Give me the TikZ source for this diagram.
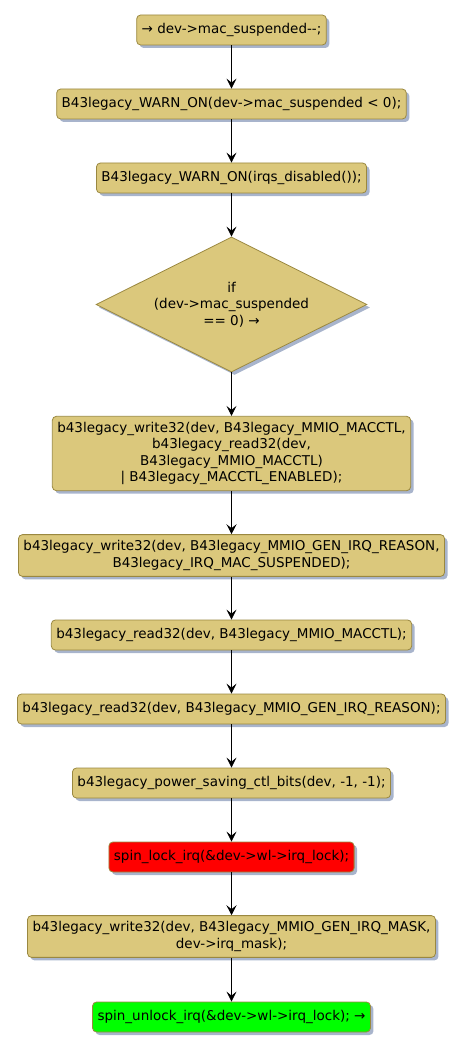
\documentclass[tikz,border=0pt]{standalone}
\usepackage{fontspec}
\setmainfont{DejaVu Sans}
\usetikzlibrary{arrows.meta,shapes.geometric,shadows}
\definecolor{ink}     {HTML}{000000}
\definecolor{actfill} {HTML}{DBC87C}
\definecolor{actedge} {HTML}{9A8840}
\definecolor{shade}   {HTML}{A8B4CC}
\definecolor{lockred} {HTML}{FF0000}
\definecolor{unlockgn}{HTML}{00FF00}
\tikzset{
  act/.style     ={draw=actedge, fill=actfill, line width=0.8pt,
                   rounded corners=4pt, minimum height=30pt,
                   align=center, font=\fontsize{13.5}{16.3}\selectfont,
                   inner xsep=5pt, inner ysep=6pt,
                   drop shadow={shadow xshift=3pt, shadow yshift=-3pt,
                                fill=shade, opacity=1}},
  lockact/.style ={act, fill=lockred},
  unlockact/.style={act, fill=unlockgn},
  cond/.style    ={act, diamond, shape aspect=2, rounded corners=0pt,
                   inner sep=0pt, minimum width=271pt, minimum height=135pt},
  arr/.style     ={-{Stealth[length=10pt,width=10pt,inset=4pt]},
                   line width=0.8pt, color=ink},
}
\begin{document}
\begin{tikzpicture}[x=1pt,y=-1pt]
  \useasboundingbox (0,0) rectangle (467,1051);
  \node[act] (dec) at (231.5,30) {→ dev->mac\_suspended-{}-;};
  \node[act] (warnneg) at (231.5,104)
    {B43legacy\_WARN\_ON(dev->mac\_suspended < 0);};
  \node[act] (warnirq) at (231.5,178)
    {B43legacy\_WARN\_ON(irqs\_disabled());};
  \node[cond] (ifzero) at (231.5,304.5)
    {if\\(dev->mac\_suspended\\== 0) →};
  \node[act] (wrmac) at (231.5,453.5)
    {b43legacy\_write32(dev, B43legacy\_MMIO\_MACCTL,\\
     b43legacy\_read32(dev,\\B43legacy\_MMIO\_MACCTL)\\
     | B43legacy\_MACCTL\_ENABLED);};
  \node[act] (wrreason) at (231.5,555.5)
    {b43legacy\_write32(dev, B43legacy\_MMIO\_GEN\_IRQ\_REASON,\\
     B43legacy\_IRQ\_MAC\_SUSPENDED);};
  \node[act] (rdmac) at (231.5,635)
    {b43legacy\_read32(dev, B43legacy\_MMIO\_MACCTL);};
  \node[act] (rdreason) at (231.5,709)
    {b43legacy\_read32(dev, B43legacy\_MMIO\_GEN\_IRQ\_REASON);};
  \node[act] (psbits) at (231.5,783)
    {b43legacy\_power\_saving\_ctl\_bits(dev, -1, -1);};
  \node[lockact] (lock) at (231.5,857)
    {spin\_lock\_irq(\&dev->wl->irq\_lock);};
  \node[act] (wrmask) at (231.5,936.5)
    {b43legacy\_write32(dev, B43legacy\_MMIO\_GEN\_IRQ\_MASK,\\
     dev->irq\_mask);};
  \node[unlockact] (unlock) at (231.5,1017)
    {spin\_unlock\_irq(\&dev->wl->irq\_lock); →};
  % flow
  \draw[arr] (dec) -- (warnneg);
  \draw[arr] (warnneg) -- (warnirq);
  \draw[arr] (warnirq) -- (ifzero);
  \draw[arr] (ifzero) -- (wrmac);
  \draw[arr] (wrmac) -- (wrreason);
  \draw[arr] (wrreason) -- (rdmac);
  \draw[arr] (rdmac) -- (rdreason);
  \draw[arr] (rdreason) -- (psbits);
  \draw[arr] (psbits) -- (lock);
  \draw[arr] (lock) -- (wrmask);
  \draw[arr] (wrmask) -- (unlock);
\end{tikzpicture}
\end{document}
